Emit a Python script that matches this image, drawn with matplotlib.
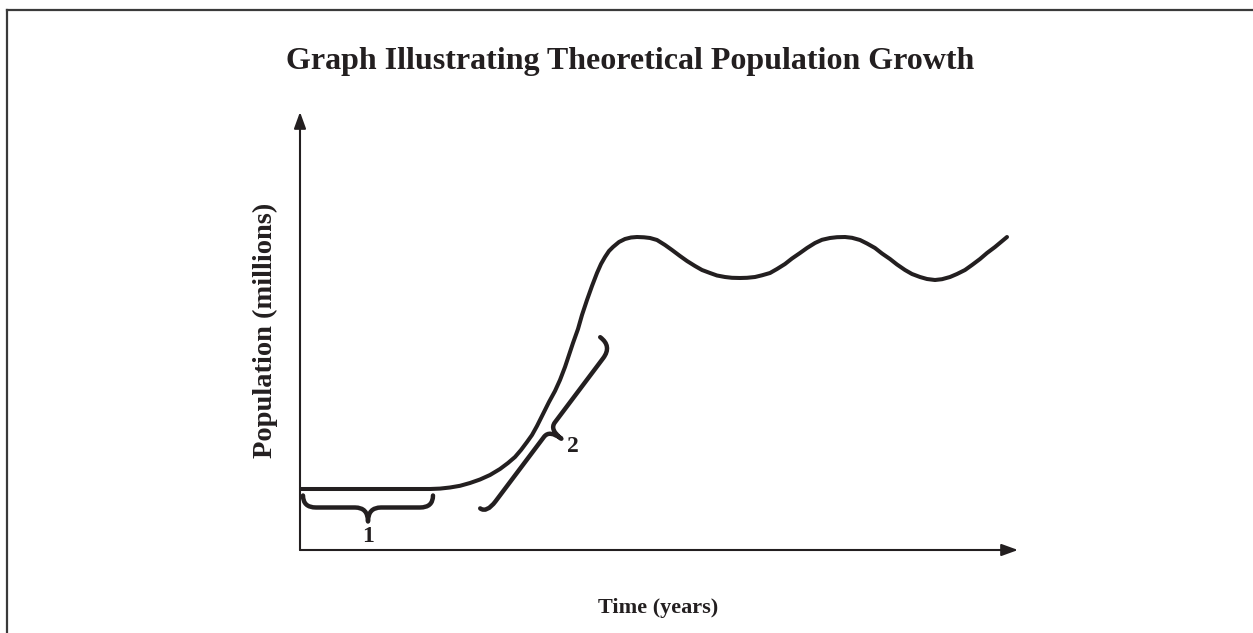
import numpy as np
from matplotlib import pyplot as plt
from matplotlib.path import Path
from matplotlib.patches import PathPatch
from matplotlib.transforms import IdentityTransform

# theoretical population curve (arbitrary units)
time = [0, 130, 140, 150, 160, 170, 180, 190, 200, 208, 215, 221, 227, 232, 237, 243,
        249, 255, 260, 265, 269, 273, 278, 282, 287, 292, 297, 301, 305, 309, 313, 319,
        325, 331, 337, 344, 350, 357, 365, 372, 380, 387, 395, 402, 410, 417, 425, 432,
        440, 447, 455, 462, 470, 477, 485, 492, 500, 507, 515, 522, 530, 537, 545, 552,
        560, 567, 575, 582, 590, 597, 605, 612, 620, 627, 635, 642, 650, 657, 665, 672,
        680, 687, 695, 701, 707]
population = [61, 61, 61.4, 62.5, 64.2, 67, 70.5, 75, 81, 87, 93, 100, 108, 115, 124, 136,
              148, 159, 170, 183, 195, 207, 221, 235, 250, 264, 277, 286, 293, 299, 303, 308,
              311, 312.5, 313, 312.7, 312, 310, 305, 300, 294, 289, 284, 280, 277, 274.5, 273, 272.2,
              272, 272.2, 273, 274.7, 277, 281, 286, 291.5, 297, 302, 307, 310.2, 312, 312.8, 313, 312.2,
              310, 306.5, 302, 296.5, 291, 285.5, 280, 276, 273, 271, 270, 270.8, 273, 276, 280, 285,
              291, 297, 303, 308, 313]

# braces: label, start (time, pop), end (time, pop), label position
brace_labels = ["1", "2"]
brace_starts = [(3, 42.5), (186.6, 36.8)]
brace_ends = [(133, 42.5), (312.2, 203.8)]
label_pos = [(68, 13), (273, 104)]

INK = "#231f20"
SERIF = "Liberation Serif"

fig = plt.figure(figsize=(12.53, 6.33), dpi=100)
W, H = 1253, 633

# frame lines (top and left only)
fig.add_artist(plt.Line2D([7 / W, 1], [1 - 10 / H, 1 - 10 / H], color="#3a3a3a", lw=1.6))
fig.add_artist(plt.Line2D([7 / W, 7 / W], [0, 1 - 10 / H], color="#3a3a3a", lw=1.6))

ax = fig.add_axes([300 / W, 83 / H, 718 / W, 438 / H])
ax.set_xlim(0, 718)
ax.set_ylim(0, 438)
for s in ax.spines.values():
    s.set_visible(False)
ax.set_xticks([])
ax.set_yticks([])

arrow = dict(arrowstyle="-|>,head_length=0.55,head_width=0.2", lw=1.5, color=INK,
             mutation_scale=18, shrinkA=0, shrinkB=0)
ax.annotate("", xy=(0, 1), xytext=(0, 0), xycoords="axes fraction", arrowprops=arrow)
ax.annotate("", xy=(1, 0), xytext=(0, 0), xycoords="axes fraction", arrowprops=arrow)

ax.plot(time, population, color=INK, lw=2.9, solid_capstyle="round", solid_joinstyle="round")


def brace(p0, p1, c, e0, e1, h, k):
    # curly brace in display pixels between two data points
    p0 = ax.transData.transform(p0)
    p1 = ax.transData.transform(p1)
    d = p1 - p0
    L = np.hypot(*d)
    u = d / L
    v = np.array([u[1], -u[0]])

    def P(a, b):
        return p0 + a * u + b * v

    verts = [P(0, e0), P(0, 0), P(h, 0), P(L / 2 - k, 0), P(L / 2, 0), P(L / 2, c),
             P(L / 2, 0), P(L / 2 + k, 0), P(L - h, 0), P(L, 0), P(L, e1)]
    codes = [Path.MOVETO, Path.CURVE3, Path.CURVE3, Path.LINETO, Path.CURVE3, Path.CURVE3,
             Path.CURVE3, Path.CURVE3, Path.LINETO, Path.CURVE3, Path.CURVE3]
    patch = PathPatch(Path(verts, codes), fill=False, lw=3.2, edgecolor=INK,
                      capstyle="round", joinstyle="round", transform=IdentityTransform())
    fig.add_artist(patch)


brace(brace_starts[0], brace_ends[0], 14, -12, -12, 13, 13)
brace(brace_starts[1], brace_ends[1], 15, -8, -15, 15, 9)

for lab, (x, y) in zip(brace_labels, label_pos):
    ax.text(x, y, lab, family=SERIF, weight="bold", fontsize=17, color=INK,
            ha="center", va="center")

fig.text(630 / W, 1 - 62 / H, "Graph Illustrating Theoretical Population Growth",
         family=SERIF, weight="bold", fontsize=23, color=INK, ha="center", va="center")
fig.text(265 / W, 1 - 330 / H, "Population (millions)", family=SERIF, weight="bold",
         fontsize=20.5, color=INK, ha="center", va="center", rotation=90)
fig.text(658 / W, 1 - 608 / H, "Time (years)", family=SERIF, weight="bold",
         fontsize=16, color=INK, ha="center", va="center")

fig.savefig("out.png", dpi=100)
